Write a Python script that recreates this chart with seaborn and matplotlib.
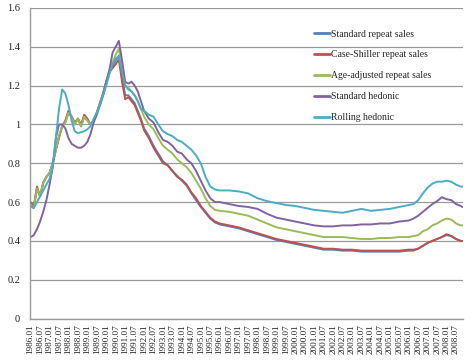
import pandas as pd
import matplotlib.pyplot as plt
import matplotlib.ticker as mticker
import seaborn as sns

# ----- DATA -----
seg_a = [f"{y}.{m:02d}" for y in range(1986, 1992) for m in (1, 3, 5, 7, 9, 11)]
seg_b = [f"{y}.{m:02d}" for y in range(1992, 1996) for m in (1, 4, 7, 10)]
seg_c = [f"{y}.{m:02d}" for y in range(1996, 2006) for m in (1, 7)] + ["2006.01"]
seg_d = ["2006.04", "2006.07", "2006.10", "2007.01", "2007.04", "2007.07",
         "2007.10", "2008.01", "2008.04", "2008.07", "2008.10"]
seg_e = ["2008.11"]
dates = seg_a + seg_b + seg_c + seg_d + seg_e

tick_labels = [f"{y}.{m}" for y in range(1986, 2009) for m in ("01", "07")]

series_names = ["Standard repeat sales", "Case-Shiller repeat sales",
                "Age-adjusted repeat sales", "Standard hedonic", "Rolling hedonic"]
series_colors = ["#4F81BD", "#C0504D", "#9BBB59", "#8064A2", "#4BACC6"]

standard_repeat = [
    0.58, 0.57, 0.67, 0.63, 0.70, 0.73,
    0.75, 0.80, 0.87, 0.94, 0.99, 1.01,
    1.06, 1.04, 1.00, 1.03, 0.99, 1.04,
    1.02, 1.00, 1.02, 1.06, 1.11, 1.16,
    1.22, 1.27, 1.30, 1.33, 1.355, 1.25,
    1.15, 1.15, 1.13, 1.11, 1.07, 1.03,
    0.98, 0.94, 0.89, 0.85, 0.81, 0.79, 0.76, 0.735,
    0.71, 0.685, 0.645, 0.61, 0.575, 0.545, 0.515, 0.495,
    0.485, 0.475, 0.465, 0.45, 0.435, 0.42, 0.405, 0.395, 0.385, 0.375,
    0.365, 0.355, 0.355, 0.35, 0.35, 0.345, 0.345, 0.345, 0.345, 0.345, 0.35,
    0.35, 0.36, 0.375, 0.39, 0.40, 0.41, 0.42, 0.43, 0.425, 0.41, 0.40,
    0.40]
case_shiller = [
    0.60, 0.58, 0.68, 0.63, 0.70, 0.73,
    0.75, 0.80, 0.87, 0.93, 0.99, 1.02,
    1.07, 1.04, 1.01, 1.03, 1.00, 1.05,
    1.03, 1.00, 1.02, 1.06, 1.11, 1.16,
    1.22, 1.27, 1.29, 1.31, 1.335, 1.22,
    1.13, 1.14, 1.12, 1.10, 1.06, 1.02,
    0.97, 0.93, 0.88, 0.84, 0.80, 0.79, 0.76, 0.73,
    0.715, 0.69, 0.65, 0.62, 0.58, 0.55, 0.52, 0.50,
    0.49, 0.48, 0.47, 0.455, 0.44, 0.425, 0.41, 0.40, 0.39, 0.38,
    0.37, 0.36, 0.36, 0.355, 0.355, 0.35, 0.35, 0.35, 0.35, 0.35, 0.355,
    0.355, 0.36, 0.375, 0.39, 0.40, 0.41, 0.42, 0.435, 0.425, 0.41, 0.40,
    0.40]
age_adjusted = [
    0.58, 0.57, 0.67, 0.63, 0.70, 0.73,
    0.75, 0.80, 0.87, 0.94, 0.99, 1.01,
    1.06, 1.04, 1.00, 1.03, 0.99, 1.04,
    1.02, 1.00, 1.02, 1.06, 1.11, 1.16,
    1.22, 1.28, 1.32, 1.36, 1.39, 1.30,
    1.20, 1.19, 1.17, 1.15, 1.12, 1.08,
    1.04, 1.00, 0.975, 0.93, 0.89, 0.87, 0.85, 0.82,
    0.80, 0.78, 0.75, 0.71, 0.67, 0.62, 0.58, 0.56,
    0.555, 0.55, 0.54, 0.53, 0.51, 0.49, 0.47, 0.46, 0.45, 0.44,
    0.43, 0.42, 0.42, 0.42, 0.415, 0.41, 0.41, 0.415, 0.415, 0.42, 0.42,
    0.425, 0.43, 0.45, 0.46, 0.48, 0.49, 0.505, 0.515, 0.51, 0.49, 0.48,
    0.48]
standard_hedonic = [
    0.42, 0.43, 0.46, 0.50, 0.55, 0.61,
    0.69, 0.78, 0.93, 1.00, 1.00, 0.98,
    0.93, 0.90, 0.89, 0.88, 0.88, 0.89,
    0.91, 0.95, 1.01, 1.05, 1.10, 1.15,
    1.22, 1.28, 1.37, 1.40, 1.43, 1.33,
    1.22, 1.21, 1.22, 1.20, 1.17, 1.12,
    1.07, 1.03, 1.01, 0.96, 0.92, 0.91, 0.89, 0.86,
    0.85, 0.82, 0.80, 0.76, 0.71, 0.66, 0.62, 0.60,
    0.60, 0.59, 0.58, 0.575, 0.565, 0.54, 0.52, 0.51, 0.50, 0.49,
    0.48, 0.475, 0.475, 0.48, 0.48, 0.485, 0.485, 0.49, 0.49, 0.50, 0.505,
    0.515, 0.53, 0.55, 0.57, 0.59, 0.605, 0.625, 0.615, 0.61, 0.59, 0.58,
    0.575]
rolling_hedonic = [
    0.58, 0.57, 0.60, 0.63, 0.66, 0.69,
    0.72, 0.78, 0.93, 1.08, 1.18, 1.16,
    1.10, 1.02, 0.965, 0.955, 0.96, 0.965,
    0.975, 0.99, 1.03, 1.06, 1.10, 1.15,
    1.20, 1.26, 1.31, 1.34, 1.35, 1.27,
    1.20, 1.18, 1.17, 1.15, 1.12, 1.08,
    1.07, 1.05, 1.04, 1.00, 0.965, 0.95, 0.94, 0.92,
    0.91, 0.89, 0.87, 0.84, 0.80, 0.73, 0.68, 0.665,
    0.66, 0.66, 0.655, 0.645, 0.62, 0.605, 0.595, 0.585, 0.58, 0.57,
    0.56, 0.555, 0.55, 0.545, 0.555, 0.565, 0.555, 0.56, 0.565, 0.575, 0.585,
    0.59, 0.61, 0.645, 0.675, 0.695, 0.705, 0.705, 0.71, 0.705, 0.69, 0.68,
    0.68]

all_series = [standard_repeat, case_shiller, age_adjusted, standard_hedonic, rolling_hedonic]


def month_index(label):
    year, month = label.split('.')
    return (int(year) - 1986) * 12 + int(month) - 1


# ----- LONG FORMAT FOR SEABORN -----
rows = []
for name, values in zip(series_names, all_series):
    for d, v in zip(dates, values):
        rows.append({'month': month_index(d), 'value': v, 'series': name})
df = pd.DataFrame(rows)

# ----- PLOT -----
sns.set_theme(style="white")
plt.rcParams['font.family'] = ['Liberation Serif', 'DejaVu Serif']

fig = plt.figure(figsize=(4.74, 3.6), dpi=100)
ax = fig.add_axes([0.063, 0.115, 0.914, 0.863])

sns.lineplot(data=df, x='month', y='value', hue='series', hue_order=series_names,
             palette=series_colors, linewidth=1.4, estimator=None, sort=False, ax=ax)

grid_col = '#9a9a9a'
ax.set_ylim(0, 1.6)
ax.set_xlim(-0.5, 274.5)
ax.set_yticks([0, 0.2, 0.4, 0.6, 0.8, 1.0, 1.2, 1.4, 1.6])
ax.yaxis.set_major_formatter(mticker.FuncFormatter(lambda v, p: f"{v:g}"))
ax.yaxis.grid(True, color=grid_col, linewidth=0.9)
ax.set_axisbelow(True)

ax.set_xticks([month_index(t) for t in tick_labels])
ax.set_xticklabels(tick_labels, rotation=90, fontsize=6.6, color='#222222')
ax.xaxis.set_minor_locator(mticker.FixedLocator([m + 0.5 for m in range(-1, 275)]))
ax.tick_params(axis='x', which='both', length=2.5, width=0.6, color=grid_col, pad=1.5)
ax.tick_params(axis='y', length=3, width=0.8, color=grid_col, labelsize=7.5,
               labelcolor='#222222', pad=4)

ax.set_xlabel('')
ax.set_ylabel('')
for side in ['top', 'right']:
    ax.spines[side].set_visible(False)
for side in ['left', 'bottom']:
    ax.spines[side].set_color(grid_col)
    ax.spines[side].set_linewidth(1.0)

leg = ax.legend(loc='upper left', bbox_to_anchor=(0.648, 0.943), frameon=False,
                fontsize=7.0, handlelength=1.6, handletextpad=0.1, labelspacing=1.22,
                borderaxespad=0)
for line in leg.get_lines():
    line.set_linewidth(2.0)

fig.savefig('out.png', dpi=100)
